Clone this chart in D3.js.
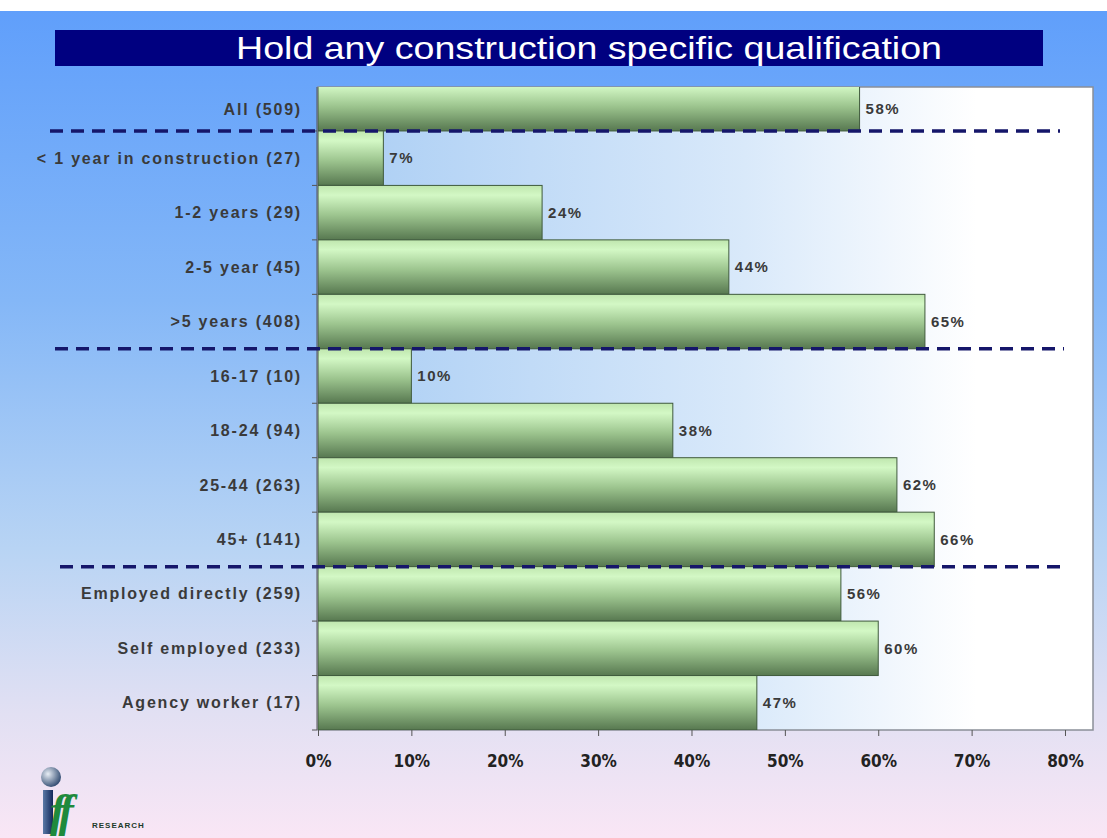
<!DOCTYPE html>
<html>
<head>
<meta charset="utf-8">
<style>
  body { margin: 0; background: #fff; }
  svg { display: block; }
  .xAxis .tick line { stroke: #555; stroke-width: 1px; }
</style>
</head>
<body>
<div class="chart"></div>
<script src="https://d3js.org/d3.v7.min.js"></script>
<script>
  // data
  const categories = [
    'All (509)',
    '< 1 year in construction (27)',
    '1-2 years (29)',
    '2-5 year (45)',
    '>5 years (408)',
    '16-17 (10)',
    '18-24 (94)',
    '25-44 (263)',
    '45+ (141)',
    'Employed directly (259)',
    'Self employed (233)',
    'Agency worker (17)'
  ];
  const values = [58, 7, 24, 44, 65, 10, 38, 62, 66, 56, 60, 47];
  const tickValues = [0, 10, 20, 30, 40, 50, 60, 70, 80];
  // dashed separators drawn after these categories
  const groupEnds = ['All (509)', '>5 years (408)', '45+ (141)'];
  const title = 'Hold any construction specific qualification';

  const svgWidth = 1107, svgHeight = 838;
  const plotLeft = 318, plotRight = 1093, plotTop = 87, plotBottom = 730;

  const svg = d3.select('.chart').append('svg')
    .attr('width', svgWidth)
    .attr('height', svgHeight);

  const defs = svg.append('defs');

  // page background: blue at top fading to pink
  const bg = defs.append('linearGradient').attr('id', 'bg')
    .attr('x1', 0).attr('y1', 0).attr('x2', 0).attr('y2', 1);
  bg.append('stop').attr('offset', '0%').attr('stop-color', '#609ffb');
  bg.append('stop').attr('offset', '35%').attr('stop-color', '#84b7f7');
  bg.append('stop').attr('offset', '65%').attr('stop-color', '#b8d4f4');
  bg.append('stop').attr('offset', '85%').attr('stop-color', '#e2e0f3');
  bg.append('stop').attr('offset', '100%').attr('stop-color', '#f9e6f5');

  // plot area: light blue on the left to white on the right
  const plotBg = defs.append('linearGradient').attr('id', 'plotBg')
    .attr('x1', 0).attr('y1', 0).attr('x2', 1).attr('y2', 0);
  plotBg.append('stop').attr('offset', '0%').attr('stop-color', '#a9cdf4');
  plotBg.append('stop').attr('offset', '55%').attr('stop-color', '#d9e9fa');
  plotBg.append('stop').attr('offset', '85%').attr('stop-color', '#ffffff');

  // bars: light green on top, dark green at the bottom
  const barGrad = defs.append('linearGradient').attr('id', 'barGrad')
    .attr('x1', 0).attr('y1', 0).attr('x2', 0).attr('y2', 1);
  barGrad.append('stop').attr('offset', '0%').attr('stop-color', '#bfe6ae');
  barGrad.append('stop').attr('offset', '18%').attr('stop-color', '#d3f8c5');
  barGrad.append('stop').attr('offset', '55%').attr('stop-color', '#9cc48e');
  barGrad.append('stop').attr('offset', '100%').attr('stop-color', '#577850');

  const sphere = defs.append('radialGradient').attr('id', 'sphere')
    .attr('cx', '35%').attr('cy', '35%').attr('r', '70%');
  sphere.append('stop').attr('offset', '0%').attr('stop-color', '#e8eef5');
  sphere.append('stop').attr('offset', '100%').attr('stop-color', '#2f4a70');

  const stem = defs.append('linearGradient').attr('id', 'stem')
    .attr('x1', 0).attr('y1', 0).attr('x2', 1).attr('y2', 0);
  stem.append('stop').attr('offset', '0%').attr('stop-color', '#5b79a6');
  stem.append('stop').attr('offset', '100%').attr('stop-color', '#13285a');

  defs.append('clipPath').attr('id', 'plotClip')
    .append('rect')
    .attr('x', plotLeft).attr('y', plotTop)
    .attr('width', plotRight - plotLeft).attr('height', plotBottom - plotTop);

  svg.append('rect')
    .attr('x', 0).attr('y', 11)
    .attr('width', svgWidth).attr('height', svgHeight - 11)
    .attr('fill', 'url(#bg)');

  // title bar
  svg.append('rect')
    .attr('x', 55).attr('y', 30)
    .attr('width', 988).attr('height', 36)
    .attr('fill', '#000080');
  svg.append('text')
    .attr('x', 589).attr('y', 59)
    .attr('text-anchor', 'middle')
    .attr('fill', '#fff')
    .attr('font-family', 'Liberation Sans, Arial, sans-serif')
    .attr('font-size', 32)
    .attr('textLength', 706)
    .attr('lengthAdjust', 'spacingAndGlyphs')
    .text(title);

  svg.append('rect')
    .attr('x', plotLeft).attr('y', plotTop)
    .attr('width', plotRight - plotLeft).attr('height', plotBottom - plotTop)
    .attr('fill', 'url(#plotBg)')
    .attr('stroke', '#8a8f98')
    .attr('stroke-width', 1.5);

  // scales: top row is partly hidden under the plot top in the original
  const x = d3.scaleLinear().domain([0, 83]).range([plotLeft, plotRight]);
  const y = d3.scaleBand().domain(categories).range([76.5, plotBottom]).padding(0);

  svg.append('g')
    .attr('clip-path', 'url(#plotClip)')
    .selectAll('rect')
    .data(categories)
    .join('rect')
    .attr('x', x(0))
    .attr('y', d => y(d))
    .attr('width', (d, i) => x(values[i]) - x(0))
    .attr('height', y.bandwidth())
    .attr('fill', 'url(#barGrad)')
    .attr('stroke', '#3f5a3c')
    .attr('stroke-width', 1);

  // label y: centre of the visible part of each band
  const midY = d => (Math.max(y(d), plotTop) + y(d) + y.bandwidth()) / 2;

  svg.append('g')
    .selectAll('text')
    .data(categories)
    .join('text')
    .attr('x', (d, i) => x(values[i]) + 6)
    .attr('y', d => midY(d))
    .attr('dy', '0.35em')
    .attr('fill', '#3a3a3a')
    .attr('font-family', 'Liberation Sans, Arial, sans-serif')
    .attr('font-weight', 'bold')
    .attr('font-size', 15)
    .attr('letter-spacing', 1.5)
    .text((d, i) => values[i] + '%');

  // category labels
  svg.append('g')
    .selectAll('text')
    .data(categories)
    .join('text')
    .attr('x', 302)
    .attr('y', d => midY(d))
    .attr('dy', '0.35em')
    .attr('text-anchor', 'end')
    .attr('fill', '#3a3a3a')
    .attr('font-family', 'Liberation Sans, Arial, sans-serif')
    .attr('font-weight', 'bold')
    .attr('font-size', 16)
    .attr('letter-spacing', 1.8)
    .text(d => d);

  // left axis with ticks at band boundaries
  const bounds = categories.slice(1).map(d => y(d)).concat([plotBottom]);
  svg.append('line')
    .attr('x1', plotLeft - 1).attr('x2', plotLeft - 1)
    .attr('y1', plotTop).attr('y2', plotBottom)
    .attr('stroke', '#555');
  svg.append('g')
    .selectAll('line')
    .data(bounds)
    .join('line')
    .attr('x1', plotLeft - 6).attr('x2', plotLeft - 1)
    .attr('y1', d => d).attr('y2', d => d)
    .attr('stroke', '#555');

  const xAxis = d3.axisBottom(x)
    .tickValues(tickValues)
    .tickSizeInner(6)
    .tickSizeOuter(0)
    .tickPadding(19)
    .tickFormat(d => d + '%');
  svg.append('g')
    .attr('class', 'xAxis')
    .attr('transform', `translate(0, ${plotBottom})`)
    .call(xAxis)
    .call(g => g.select('.domain').remove())
    .call(g => g.selectAll('text')
      .attr('fill', '#222')
      .attr('font-family', 'DejaVu Sans Condensed, Liberation Sans, Arial, sans-serif')
      .attr('font-weight', 'bold')
      .attr('font-size', 17));

  // dashed separators between groups
  svg.append('g')
    .selectAll('line')
    .data(groupEnds)
    .join('line')
    .attr('x1', (d, i) => 50 + i * 5).attr('x2', (d, i) => 1060 + i * 4)
    .attr('y1', d => y(d) + y.bandwidth())
    .attr('y2', d => y(d) + y.bandwidth())
    .attr('stroke', '#15166a')
    .attr('stroke-width', 3.5)
    .attr('stroke-dasharray', '13,8');

  // iff research logo
  const logo = svg.append('g');
  logo.append('circle').attr('cx', 51).attr('cy', 777).attr('r', 10).attr('fill', 'url(#sphere)');
  logo.append('rect').attr('x', 43).attr('y', 790).attr('width', 10).attr('height', 44).attr('fill', 'url(#stem)');
  logo.append('text')
    .attr('x', 50).attr('y', 826)
    .attr('fill', '#1f8a3c')
    .attr('font-family', 'Liberation Serif, serif')
    .attr('font-style', 'italic')
    .attr('font-weight', 'bold')
    .attr('font-size', 46)
    .attr('letter-spacing', -6)
    .text('ff');
  logo.append('text')
    .attr('x', 92).attr('y', 828)
    .attr('fill', '#1d3b2a')
    .attr('font-family', 'Liberation Sans, Arial, sans-serif')
    .attr('font-weight', 'bold')
    .attr('font-size', 8)
    .attr('letter-spacing', 1)
    .text('RESEARCH');
</script>
</body>
</html>
